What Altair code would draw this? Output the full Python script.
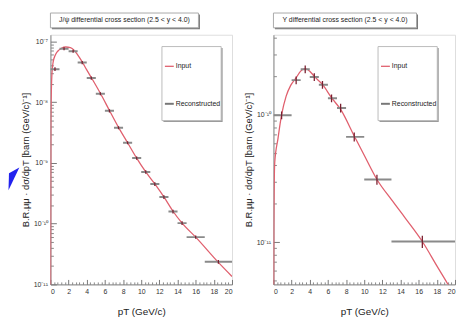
import altair as alt
import pandas as pd

# ---------------- J/psi (left panel) ----------------
jpsi_bin_lo = [0, 1, 2, 3, 4, 5, 6, 7, 8, 9, 10, 11, 12, 13, 14, 15, 17]
jpsi_bin_hi = [1, 2, 3, 4, 5, 6, 7, 8, 9, 10, 11, 12, 13, 14, 15, 17, 20]
jpsi_pt = [0.5, 1.5, 2.5, 3.5, 4.5, 5.5, 6.5, 7.5, 8.5, 9.5, 10.5, 11.5, 12.5, 13.5, 14.5, 16.0, 18.5]
jpsi_xsec = [3.5e-8, 7.6e-8, 6.9e-8, 4.5e-8, 2.5e-8, 1.38e-8, 7.2e-9, 3.8e-9, 2.15e-9,
             1.2e-9, 7.1e-10, 4.5e-10, 2.75e-10, 1.58e-10, 1.02e-10, 6.0e-11, 2.35e-11]
jpsi_relerr = [0.07, 0.06, 0.06, 0.06, 0.06, 0.06, 0.06, 0.06, 0.06, 0.06, 0.07, 0.07, 0.07,
               0.07, 0.07, 0.06, 0.07]

jpsi_curve_pt = [0.0, 0.05, 0.15, 0.3, 0.5, 0.8, 1.2, 1.7, 2.2, 2.6, 3.0, 3.5, 4.0, 4.5, 5.5,
                 6.5, 7.5, 8.5, 9.5, 10.5, 11.5, 12.5, 13.5, 14.5, 16.0, 18.5, 20.0]
jpsi_curve_val = [1e-12, 5e-9, 2.6e-8, 4.6e-8, 5.8e-8, 6.9e-8, 7.7e-8, 8.1e-8, 7.9e-8, 7.2e-8,
                  6.0e-8, 4.6e-8, 3.4e-8, 2.55e-8, 1.4e-8, 7.3e-9, 3.85e-9, 2.15e-9, 1.2e-9,
                  7.1e-10, 4.5e-10, 2.75e-10, 1.6e-10, 1.02e-10, 6.0e-11, 2.3e-11, 1.35e-11]

# ---------------- Upsilon (right panel) ----------------
ups_bin_lo = [0, 2, 3, 4, 5, 6, 7, 8, 10, 13]
ups_bin_hi = [2, 3, 4, 5, 6, 7, 8, 10, 13, 20]
ups_pt = [0.9, 2.5, 3.5, 4.5, 5.4, 6.4, 7.4, 8.9, 11.4, 16.4]
ups_xsec = [9.9e-11, 1.87e-10, 2.28e-10, 1.98e-10, 1.72e-10, 1.35e-10, 1.13e-10, 6.7e-11,
            3.1e-11, 1.01e-11]
ups_relerr = [0.07, 0.07, 0.07, 0.07, 0.07, 0.07, 0.08, 0.08, 0.09, 0.11]

ups_curve_pt = [0.0, 0.04, 0.14, 0.5, 0.9, 1.4, 1.9, 2.5, 3.0, 3.5, 4.0, 4.5, 5.4, 6.4, 7.4,
                8.9, 10.0, 11.4, 13.0, 14.5, 16.4, 18.0, 19.5, 20.0]
ups_curve_val = [1e-12, 1.2e-11, 4.2e-11, 6.5e-11, 1.0e-10, 1.4e-10, 1.7e-10, 1.95e-10,
                 2.2e-10, 2.3e-10, 2.2e-10, 2.0e-10, 1.73e-10, 1.36e-10, 1.1e-10, 6.8e-11,
                 4.8e-11, 3.1e-11, 2.15e-11, 1.55e-11, 1.01e-11, 6.5e-12, 4.3e-12, 3.7e-12]

# ---------------- axis ticks / labels ----------------
x_major = [0, 2, 4, 6, 8, 10, 12, 14, 16, 18, 20]
x_minor = [round(i * 0.4, 1) for i in range(51) if (i % 5) != 0]
jpsi_decades = [1e-7, 1e-8, 1e-9, 1e-10, 1e-11]
ups_decades = [1e-10, 1e-11]
log_minor_all = [m * 10.0 ** e for e in range(-12, -6) for m in range(2, 10)]

titles = ["J/ψ differential cross section (2.5 < y < 4.0)",
          "Υ differential cross section (2.5 < y < 4.0)"]
legend_labels = ["Input", "Reconstructed"]
y_title = "B.R.μμ · dσ/dpT  [barn (GeV/c)⁻¹]"
x_title = "pT (GeV/c)"

FONT = "Liberation Sans"
W, H = 184, 253
CURVE = "#e0606e"
SUP = "['⁰','¹','²','³','⁴','⁵','⁶','⁷','⁸','⁹','¹⁰','¹¹','¹²']"
YLAB = f"'10⁻' + {SUP}[round(-log(datum.value)/LN10)]"


def panel(lo, hi, pt, val, err, cpt, cval, ydom, decades, title, title_w, leg_x, arrow):
    pts = pd.DataFrame({"lo": lo, "hi": hi, "pt": pt, "val": val,
                        "elo": [v * (1 - e) for v, e in zip(val, err)],
                        "ehi": [v * (1 + e) for v, e in zip(val, err)]})
    cur = pd.DataFrame({"pt": cpt, "val": cval})
    xs = alt.Scale(domain=[0, 20], nice=False, zero=False)
    ys = alt.Scale(type="log", domain=ydom, nice=False)
    minor = [v for v in log_minor_all if ydom[0] <= v <= ydom[1]]

    base_ax = dict(grid=False, labelFont=FONT, titleFont=FONT, labelColor="#333",
                   titleColor="#222", domainColor="#888")
    curve = alt.Chart(cur).mark_line(color=CURVE, strokeWidth=1.3, clip=True,
                                      interpolate="monotone").encode(
        x=alt.X("pt:Q", scale=xs, axis=alt.Axis(
            values=x_major, ticks=False, orient="bottom", labelFontSize=7,
            labelPadding=3, title=x_title, titleFontSize=10, titleFontWeight="normal",
            titlePadding=13, **base_ax)),
        y=alt.Y("val:Q", scale=ys, axis=alt.Axis(
            values=decades, ticks=False, orient="left", labelFontSize=7, labelPadding=3,
            labelExpr=YLAB, title=y_title, titleFontSize=9.5, titleFontWeight="normal",
            titlePadding=3, **base_ax)))
    hbar = alt.Chart(pts).mark_rule(color="#8a8a8a", strokeWidth=2, clip=True).encode(
        x=alt.X("lo:Q", scale=xs, axis=alt.Axis(
            values=x_major, labels=False, domain=False, tickSize=5, offset=-5,
            tickColor="#777", orient="bottom", title=None, grid=False)),
        x2="hi:Q",
        y=alt.Y("val:Q", scale=ys, axis=alt.Axis(
            values=decades, labels=False, domain=False, tickSize=6, offset=-6,
            tickColor="#777", orient="left", title=None, grid=False)))
    vbar = alt.Chart(pts).mark_rule(color="#7a2030", strokeWidth=1.3, clip=True).encode(
        x=alt.X("pt:Q", scale=xs, axis=alt.Axis(
            values=x_minor, labels=False, domain=False, tickSize=2.5, offset=-2.5,
            tickColor="#888", orient="bottom", title=None, grid=False)),
        y=alt.Y("elo:Q", scale=ys, axis=alt.Axis(
            values=minor, labels=False, domain=False, tickSize=3, offset=-3,
            tickColor="#888", orient="left", title=None, grid=False)),
        y2="ehi:Q")

    one = pd.DataFrame({"a": [0]})
    deco = []
    # title box
    deco.append(alt.Chart(one).mark_rect(fill="#777").encode(
        x=alt.value(1.5), x2=alt.value(title_w + 1.5), y=alt.value(-20.5), y2=alt.value(-5.5)))
    deco.append(alt.Chart(one).mark_rect(fill="white", stroke="#aaa", strokeWidth=1).encode(
        x=alt.value(0), x2=alt.value(title_w), y=alt.value(-22), y2=alt.value(-7)))
    deco.append(alt.Chart(one).mark_text(font=FONT, fontSize=7, color="#222",
                                         align="center", baseline="middle").encode(
        x=alt.value(title_w / 2), y=alt.value(-14.5), text=alt.value(title)))
    # legend box
    deco.append(alt.Chart(one).mark_rect(fill="#999").encode(
        x=alt.value(leg_x + 1.5), x2=alt.value(leg_x + 61.5), y=alt.value(13.5), y2=alt.value(88.5)))
    deco.append(alt.Chart(one).mark_rect(fill="white", stroke="#bbb", strokeWidth=1).encode(
        x=alt.value(leg_x), x2=alt.value(leg_x + 60), y=alt.value(12), y2=alt.value(87)))
    deco.append(alt.Chart(one).mark_rule(color=CURVE, strokeWidth=1.3).encode(
        x=alt.value(leg_x + 3), x2=alt.value(leg_x + 12), y=alt.value(32)))
    deco.append(alt.Chart(one).mark_rule(color="#777", strokeWidth=2).encode(
        x=alt.value(leg_x + 3), x2=alt.value(leg_x + 12), y=alt.value(70)))
    for lab, yy in zip(legend_labels, [32, 70]):
        deco.append(alt.Chart(one).mark_text(font=FONT, fontSize=7, color="#222",
                                             align="left", baseline="middle").encode(
            x=alt.value(leg_x + 14), y=alt.value(yy), text=alt.value(lab)))
    if arrow:
        deco.append(alt.Chart(one).mark_point(
            shape="M0.55,-1.15L-0.5,-0.55L-0.55,1.15Z", filled=True, color="#2222ee",
            opacity=1, size=400).encode(x=alt.value(-37), y=alt.value(146)))

    return alt.layer(curve, hbar, vbar, *deco).resolve_axis(
        x="independent", y="independent").properties(width=W, height=H)


left = panel(jpsi_bin_lo, jpsi_bin_hi, jpsi_pt, jpsi_xsec, jpsi_relerr, jpsi_curve_pt,
             jpsi_curve_val, [1e-11, 1.29e-7], jpsi_decades, titles[0], 150, 113, True)
right = panel(ups_bin_lo, ups_bin_hi, ups_pt, ups_xsec, ups_relerr, ups_curve_pt,
              ups_curve_val, [4.65e-12, 4.25e-10], ups_decades, titles[1], 145, 106, False)

chart = alt.hconcat(left, right, spacing=10).properties(
    padding={"left": 0, "top": 2, "right": 0, "bottom": 0}
).configure_view(stroke="#aaa", strokeWidth=1).configure(background="white")

chart.save("out.html", embed_options={"renderer": "svg", "actions": False})
